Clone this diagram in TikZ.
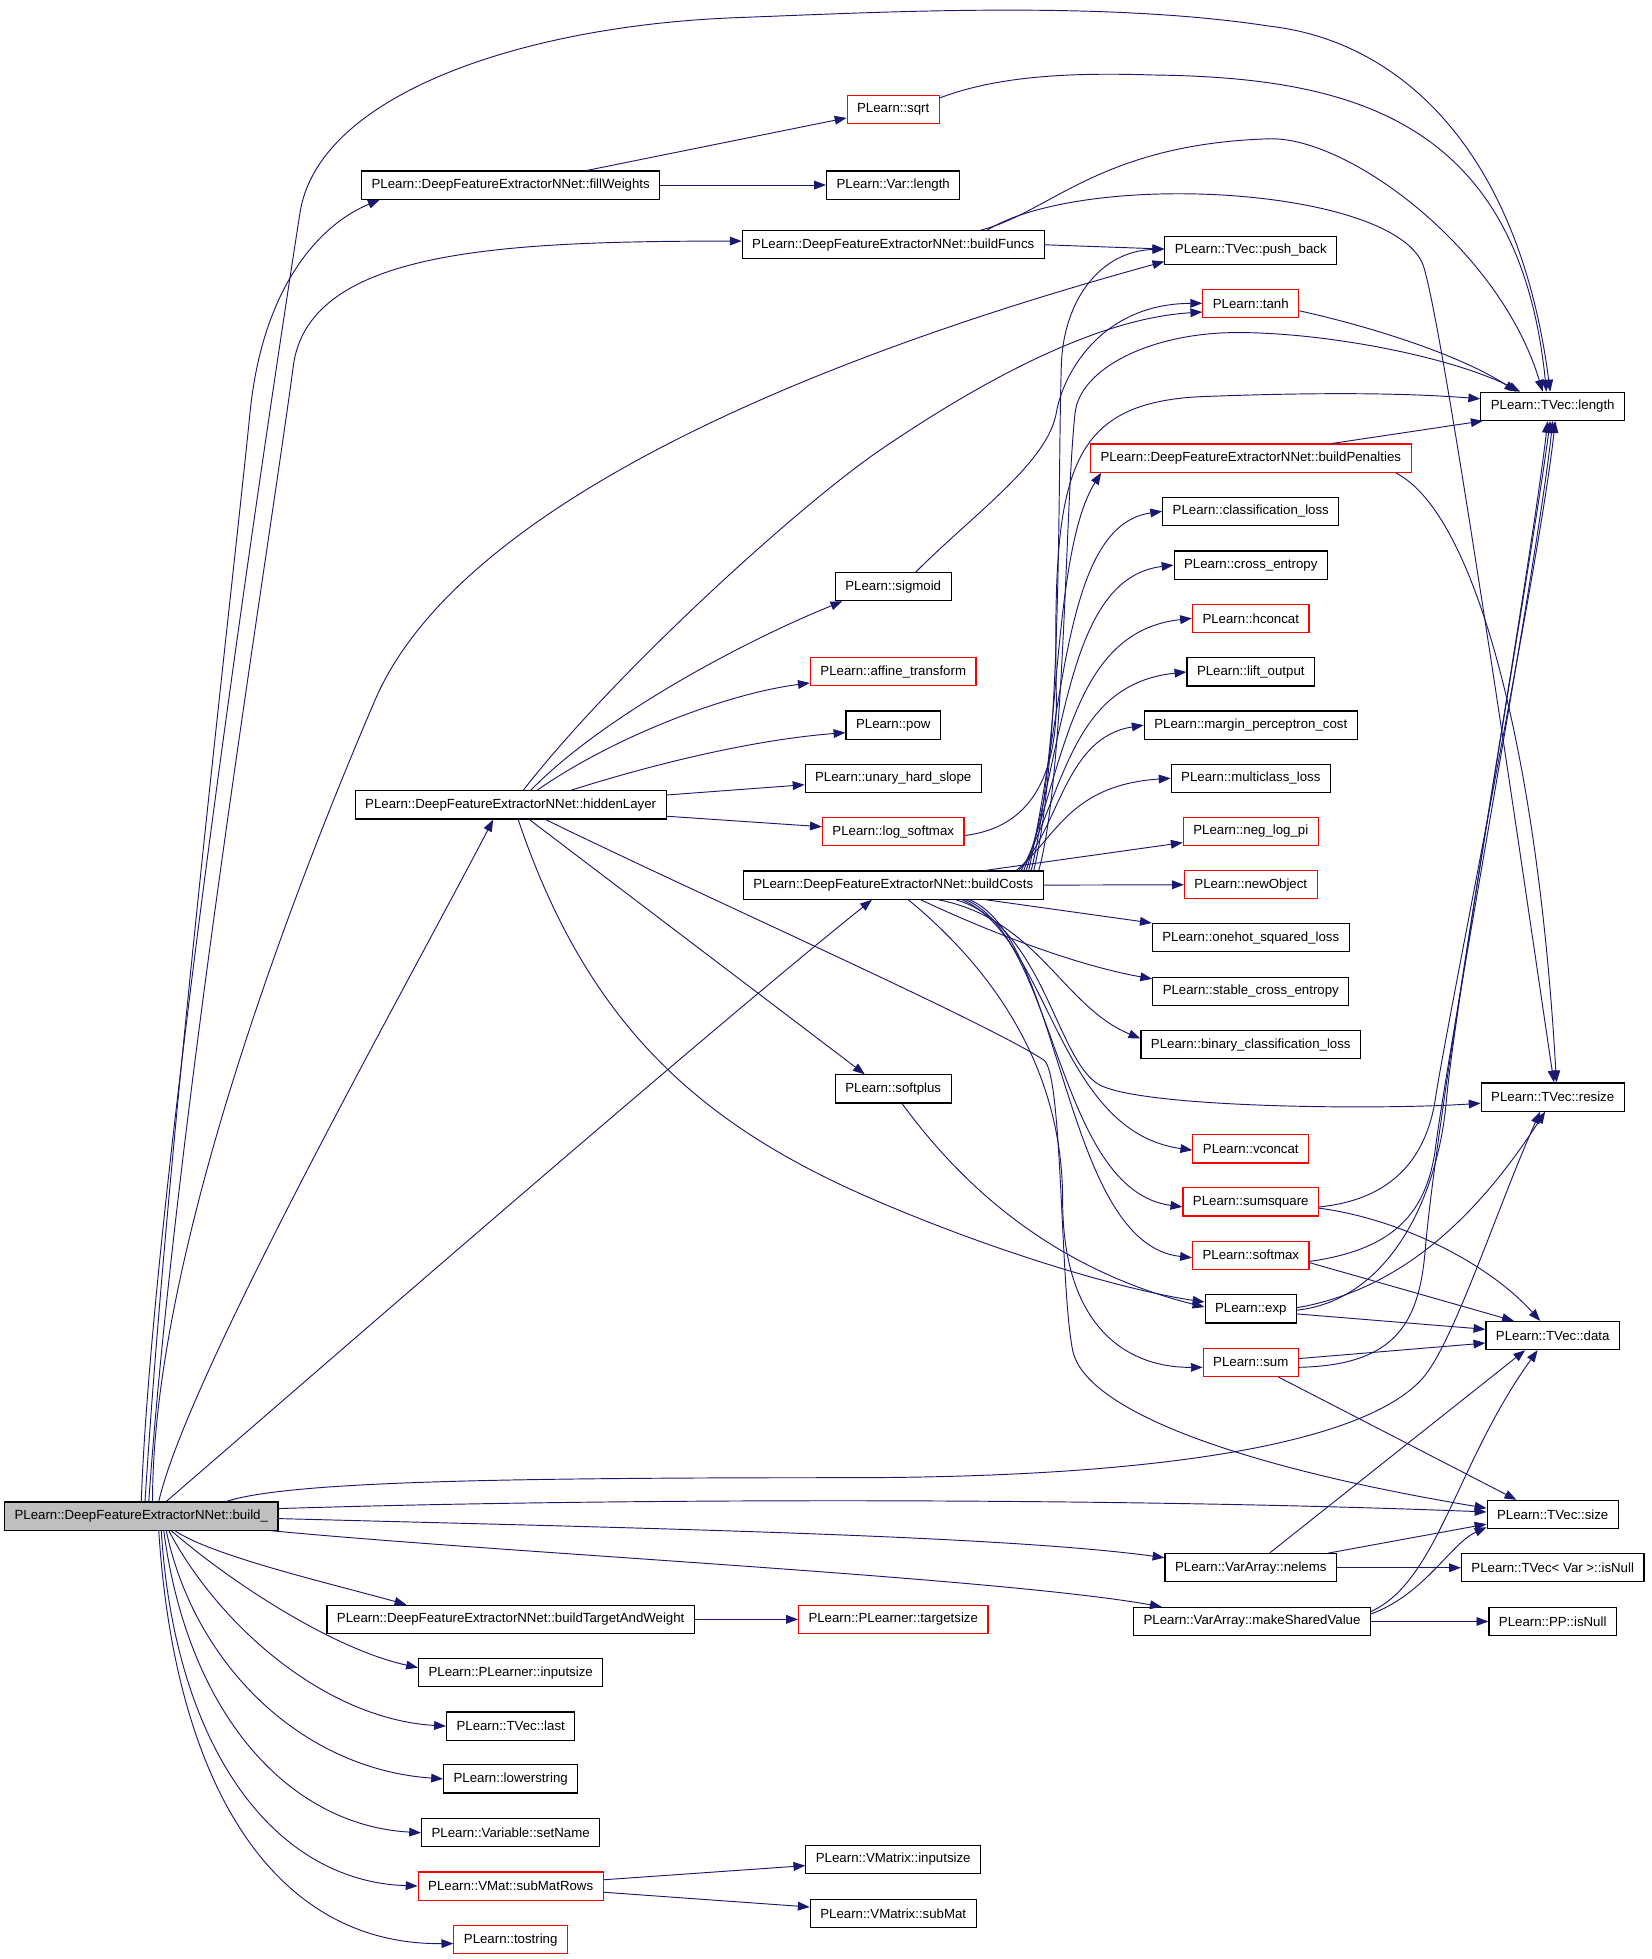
\documentclass[tikz,border=0pt]{standalone}
\usepackage{fontspec}
\setmainfont{Liberation Sans}
\usetikzlibrary{arrows.meta}
\definecolor{callblue}{HTML}{191970}
\begin{document}
\begin{tikzpicture}[x=1pt,y=-1pt,
  fn/.style={draw=black, fill=white, line width=0.9pt, minimum height=22.5pt, inner xsep=8pt, inner ysep=0pt, font=\fontsize{10.6}{12}\selectfont},
  fnred/.style={fn, draw=red},
  fnroot/.style={fn, fill=black!25},
  call/.style={>={Triangle[length=9.5pt,width=7pt]}, ->, draw=callblue, line width=0.75pt}]

\useasboundingbox (0,0) rectangle (1321,1567);

\node[fnroot] (root) at (113,1212.7) {PLearn::DeepFeatureExtractorNNet::build\_};

\node[fn] (fw) at (408.5,148) {PLearn::DeepFeatureExtractorNNet::fillWeights};
\node[fn] (hl) at (408.5,643.9) {PLearn::DeepFeatureExtractorNNet::hiddenLayer};
\node[fn] (btw) at (408.5,1295.3) {PLearn::DeepFeatureExtractorNNet::buildTargetAndWeight};
\node[fn] (pis) at (408.5,1337.9) {PLearn::PLearner::inputsize};
\node[fn] (last) at (408.5,1380.7) {PLearn::TVec::last};
\node[fn] (lows) at (408.5,1422.9) {PLearn::lowerstring};
\node[fn] (setn) at (408.5,1466) {PLearn::Variable::setName};
\node[fnred] (smr) at (408.5,1508.6) {PLearn::VMat::subMatRows};
\node[fnred] (tostr) at (408.5,1551.6) {PLearn::tostring};

\node[fnred] (sqrt) at (714.5,87.3) {PLearn::sqrt};
\node[fn] (vlen) at (714.5,148) {PLearn::Var::length};
\node[fn] (bf) at (714.5,195.8) {PLearn::DeepFeatureExtractorNNet::buildFuncs};
\node[fn] (sg) at (714.5,469.3) {PLearn::sigmoid};
\node[fnred] (aff) at (714.5,537.3) {PLearn::affine\_transform};
\node[fn] (pow) at (714.5,580) {PLearn::pow};
\node[fn] (uhs) at (714.5,622.7) {PLearn::unary\_hard\_slope};
\node[fnred] (lsm) at (714.5,665.3) {PLearn::log\_softmax};
\node[fn] (bc) at (714.5,708) {PLearn::DeepFeatureExtractorNNet::buildCosts};
\node[fn] (sp) at (714.5,871) {PLearn::softplus};
\node[fnred] (tsz) at (714.5,1295.3) {PLearn::PLearner::targetsize};
\node[fn] (vmi) at (714.5,1487.3) {PLearn::VMatrix::inputsize};
\node[fn] (vms) at (714.5,1530.4) {PLearn::VMatrix::subMat};

\node[fn] (pb) at (1000.5,200.2) {PLearn::TVec::push\_back};
\node[fnred] (tanh) at (1000.5,242.6) {PLearn::tanh};
\node[fnred] (bp) at (1000.5,366.4) {PLearn::DeepFeatureExtractorNNet::buildPenalties};
\node[fn] (cl) at (1000.5,409) {PLearn::classification\_loss};
\node[fn] (ce) at (1000.5,452) {PLearn::cross\_entropy};
\node[fnred] (hc) at (1000.5,494.6) {PLearn::hconcat};
\node[fn] (lo) at (1000.5,537.5) {PLearn::lift\_output};
\node[fn] (mpc) at (1000.5,580) {PLearn::margin\_perceptron\_cost};
\node[fn] (ml) at (1000.5,622.5) {PLearn::multiclass\_loss};
\node[fnred] (nlp) at (1000.5,665) {PLearn::neg\_log\_pi};
\node[fnred] (no) at (1000.5,707.7) {PLearn::newObject};
\node[fn] (osl) at (1000.5,750) {PLearn::onehot\_squared\_loss};
\node[fn] (sce) at (1000.5,793) {PLearn::stable\_cross\_entropy};
\node[fn] (bcl) at (1000.5,835.7) {PLearn::binary\_classification\_loss};
\node[fnred] (vc) at (1000.5,919) {PLearn::vconcat};
\node[fnred] (ssq) at (1000.5,961.4) {PLearn::sumsquare};
\node[fnred] (smax) at (1000.5,1004) {PLearn::softmax};
\node[fn] (exp) at (1000.5,1047) {PLearn::exp};
\node[fnred] (sum) at (1000.5,1089.7) {PLearn::sum};
\node[fn] (nel) at (1000.5,1254) {PLearn::VarArray::nelems};
\node[fn] (msv) at (1001.5,1297) {PLearn::VarArray::makeSharedValue};

\node[fn] (tlen) at (1242,325) {PLearn::TVec::length};
\node[fn] (tres) at (1242,877.5) {PLearn::TVec::resize};
\node[fn] (tdata) at (1242,1068.3) {PLearn::TVec::data};
\node[fn] (tsize) at (1242,1211.4) {PLearn::TVec::size};
\node[fn] (tvnull) at (1242,1254) {PLearn::TVec\textless{} Var \textgreater{}::isNull};
\node[fn] (ppnull) at (1242,1297) {PLearn::PP::isNull};

% build_
\draw[call] (root.north) .. controls (122,950) and (215,330) .. (240,170) .. controls (255,75) and (420,20) .. (592,14) .. controls (700,10) and (880,0) .. (1016,21) .. controls (1120,33) and (1215,120) .. ([xshift=-2pt]tlen.north);
\draw[call] ([xshift=3pt]root.north) .. controls (135,900) and (185,480) .. (200,330) .. controls (210,230) and (255,180) .. ([xshift=15pt]fw.south west);
\draw[call] ([xshift=6pt]root.north) .. controls (140,900) and (215,440) .. (235,290) .. controls (250,200) and (400,193) .. ([yshift=3pt]bf.west);
\draw[call] ([xshift=9pt]root.north) .. controls (122,1000) and (240,700) .. (300,560) .. controls (360,420) and (600,300) .. ([yshift=-9pt]pb.west);
\draw[call] ([xshift=14pt]root.north) .. controls (150,1100) and (330,780) .. ([xshift=-14pt]hl.south);
\draw[call] ([xshift=20pt]root.north) .. controls (250,1100) and (560,830) .. ([xshift=-17pt]bc.south);
\draw[call] ([xshift=68pt]root.north) .. controls (230,1185) and (400,1182) .. (677,1182) .. controls (950,1182) and (1100,1150) .. (1140,1100) .. controls (1165,1068) and (1200,960) .. ([xshift=-10pt]tres.south);
\draw[call] ([yshift=6pt]root.east) .. controls (500,1198) and (900,1198) .. ([yshift=2pt]tsize.west);
\draw[call] ([yshift=-2pt]root.east) .. controls (500,1222) and (800,1228) .. ([yshift=8pt]nel.west);
\draw[call] ([xshift=-6pt]root.south east) .. controls (400,1242) and (800,1262) .. ([xshift=23pt]msv.north west);
\draw[call] ([xshift=27pt]root.south) .. controls (170,1245) and (270,1268) .. ([xshift=64pt]btw.north west);
\draw[call] ([xshift=24pt]root.south) .. controls (190,1270) and (270,1320) .. ([yshift=4pt]pis.west);
\draw[call] ([xshift=22pt]root.south) .. controls (175,1300) and (260,1375) .. (last.west);
\draw[call] ([xshift=20pt]root.south) .. controls (155,1330) and (240,1415) .. (lows.west);
\draw[call] ([xshift=18pt]root.south) .. controls (150,1370) and (230,1460) .. (setn.west);
\draw[call] ([xshift=16pt]root.south) .. controls (140,1400) and (220,1505) .. (smr.west);
\draw[call] ([xshift=14pt]root.south) .. controls (140,1430) and (220,1556) .. ([yshift=-3pt]tostr.west);

\draw[call] ([xshift=61pt]fw.north) -- ([yshift=-7pt]sqrt.west);
\draw[call] (fw.east) -- (vlen.west);

\draw[call] (bf.east) -- ([yshift=1pt]pb.west);
\draw[call] ([xshift=70pt]bf.north) .. controls (840,170) and (880,115) .. (1016,111) .. controls (1080,110) and (1200,200) .. ([xshift=-8pt]tlen.north);
\draw[call] ([xshift=75pt]bf.north) .. controls (870,135) and (1120,150) .. (1139,214) .. controls (1158,278) and (1230,780) .. ([xshift=1pt]tres.north);

\draw[call] ([yshift=9pt]sqrt.east) .. controls (800,60) and (860,58) .. (923,60) .. controls (1080,62) and (1215,95) .. ([xshift=-5pt]tlen.north);
\draw[call] ([yshift=-6pt]tanh.east) .. controls (1100,262) and (1170,285) .. ([xshift=-29pt]tlen.north);

\draw[call] ([xshift=65pt]bp.north) -- ([xshift=2pt]tlen.south west);
\draw[call] ([xshift=-13pt]bp.south east) .. controls (1180,410) and (1230,600) .. ([xshift=3pt]tres.north);

\draw[call] ([xshift=18pt]sg.north) .. controls (780,410) and (838,370) .. (845,330) .. controls (850,300) and (880,243) .. (tanh.west);

% hiddenLayer
\draw[call] ([xshift=10pt]hl.north) .. controls (490,540) and (638,405) .. (704,360) .. controls (770,315) and (870,255) .. ([yshift=-7pt]tanh.west);
\draw[call] ([xshift=16pt]hl.north) .. controls (480,575) and (590,515) .. ([xshift=6pt]sg.south west);
\draw[call] ([xshift=21pt]hl.north) .. controls (490,590) and (580,555) .. ([yshift=-9pt]aff.west);
\draw[call] ([xshift=48pt]hl.north) .. controls (520,612) and (600,592) .. ([yshift=-6pt]pow.west);
\draw[call] ([yshift=8pt]hl.east) -- ([yshift=-5pt]uhs.west);
\draw[call] ([yshift=-9pt]hl.east) -- ([yshift=4pt]lsm.west);
\draw[call] ([xshift=15pt]hl.south) -- ([xshift=24pt]sp.north west);
\draw[call] ([xshift=6pt]hl.south) .. controls (470,820) and (560,900) .. (700,960) .. controls (800,1003) and (900,1032) .. ([yshift=5.5pt]exp.west);
\draw[call] ([xshift=28pt]hl.south) .. controls (560,716) and (790,818) .. (835,848) .. controls (850,858) and (848,1030) .. (858,1080) .. controls (868,1130) and (1000,1175) .. ([yshift=5pt]tsize.west);

\draw[call] ([xshift=7pt]sp.south) .. controls (760,935) and (830,1012) .. ([yshift=1.5pt]exp.west);
\draw[call] ([yshift=-3pt]lsm.east) .. controls (825,662) and (845,620) .. (845,560) .. controls (842,380) and (850,320) .. (968,317) .. controls (1050,314) and (1120,314) .. ([yshift=6pt]tlen.west);

% buildCosts
\draw[call] ([xshift=-4pt]bc.north east) .. controls (852,620) and (852,400) .. (860,330) .. controls (864,295) and (920,266) .. (990,266) .. controls (1060,266) and (1160,285) .. ([xshift=-26pt]tlen.north);
\draw[call] ([xshift=-8pt]bc.north east) .. controls (850,600) and (846,380) .. (849,291) .. controls (851,240) and (880,201) .. ([yshift=1pt]pb.west);
\draw[call] ([xshift=-10pt]bc.north east) .. controls (848,600) and (842,440) .. ([xshift=9pt]bp.south west);
\draw[call] ([xshift=-12pt]bc.north east) .. controls (852,560) and (852,420) .. (cl.west);
\draw[call] ([xshift=-14pt]bc.north east) .. controls (852,590) and (855,462) .. (ce.west);
\draw[call] ([xshift=-16pt]bc.north east) .. controls (852,610) and (858,505) .. (hc.west);
\draw[call] ([xshift=-18pt]bc.north east) .. controls (852,630) and (858,547) .. (lo.west);
\draw[call] ([xshift=-20pt]bc.north east) .. controls (848,660) and (852,590) .. (mpc.west);
\draw[call] ([xshift=-22pt]bc.north east) .. controls (845,670) and (855,628) .. (ml.west);
\draw[call] ([xshift=73pt]bc.north) -- ([yshift=-9pt]nlp.west);
\draw[call] (bc.east) -- (no.west);
\draw[call] ([xshift=74pt]bc.south) -- (osl.north west);
\draw[call] ([xshift=22pt]bc.south) .. controls (790,745) and (860,772) .. ([yshift=10pt]sce.west);
\draw[call] ([xshift=36pt]bc.south) .. controls (830,735) and (850,805) .. ([yshift=5pt]bcl.west);
\draw[call] ([xshift=50pt]bc.south) .. controls (835,740) and (845,850) .. (880,868) .. controls (915,886) and (1100,888) .. ([yshift=-5pt]tres.west);
\draw[call] ([xshift=55pt]bc.south) .. controls (840,750) and (845,905) .. ([yshift=-1pt]vc.west);
\draw[call] ([xshift=58pt]bc.south) .. controls (845,750) and (845,952) .. ([yshift=-4pt]ssq.west);
\draw[call] ([xshift=61pt]bc.south) .. controls (850,750) and (850,995) .. ([yshift=-2pt]smax.west);
\draw[call] ([xshift=12pt]bc.south) .. controls (800,780) and (850,860) .. (850,960) .. controls (850,1060) and (900,1094) .. ([yshift=-4pt]sum.west);

% right column
\draw[call] ([yshift=-1pt]exp.east) .. controls (1110,1040) and (1150,960) .. (1157,880) .. controls (1164,800) and (1225,450) .. ([xshift=-4pt]tlen.south);
\draw[call] ([yshift=1pt]exp.east) .. controls (1130,1030) and (1190,960) .. ([xshift=-6pt]tres.south);
\draw[call] ([yshift=-4pt]exp.east) -- ([yshift=5pt]tdata.west);
\draw[call] ([yshift=3pt]sum.east) -- ([yshift=-6pt]tdata.west);
\draw[call] ([yshift=-4pt]sum.east) .. controls (1115,1092) and (1135,1060) .. (1140,1000) .. controls (1150,880) and (1225,450) .. ([xshift=-2pt]tlen.south);
\draw[call] ([xshift=22pt]sum.south) -- ([xshift=-29pt]tsize.north);
\draw[call] ([yshift=-5pt]smax.east) .. controls (1110,1000) and (1140,975) .. (1148,920) .. controls (1158,840) and (1230,450) .. (tlen.south);
\draw[call] ([yshift=-6pt]smax.east) -- ([xshift=-31pt]tdata.north);
\draw[call] ([yshift=-4pt]ssq.east) .. controls (1110,960) and (1140,930) .. (1148,880) .. controls (1155,830) and (1232,450) .. ([xshift=2pt]tlen.south);
\draw[call] ([yshift=-5pt]ssq.east) .. controls (1120,975) and (1190,1010) .. ([xshift=-10pt]tdata.north);

\draw[call] ([xshift=62pt]nel.north) -- ([yshift=4pt]tsize.south west);
\draw[call] (nel.east) -- (tvnull.west);
\draw[call] ([xshift=15pt]nel.north) -- ([xshift=-22pt]tdata.south);
\draw[call] (msv.east) -- (ppnull.west);
\draw[call] ([yshift=6pt]msv.east) .. controls (1140,1275) and (1160,1235) .. ([yshift=1.5pt]tsize.south west);
\draw[call] ([yshift=8pt]msv.east) .. controls (1150,1265) and (1165,1170) .. ([xshift=-12pt]tdata.south);

\draw[call] (btw.east) -- (tsz.west);
\draw[call] ([yshift=5pt]smr.east) -- ([yshift=-5pt]vmi.west);
\draw[call] ([yshift=-5pt]smr.east) -- ([yshift=5pt]vms.west);

\end{tikzpicture}
\end{document}
